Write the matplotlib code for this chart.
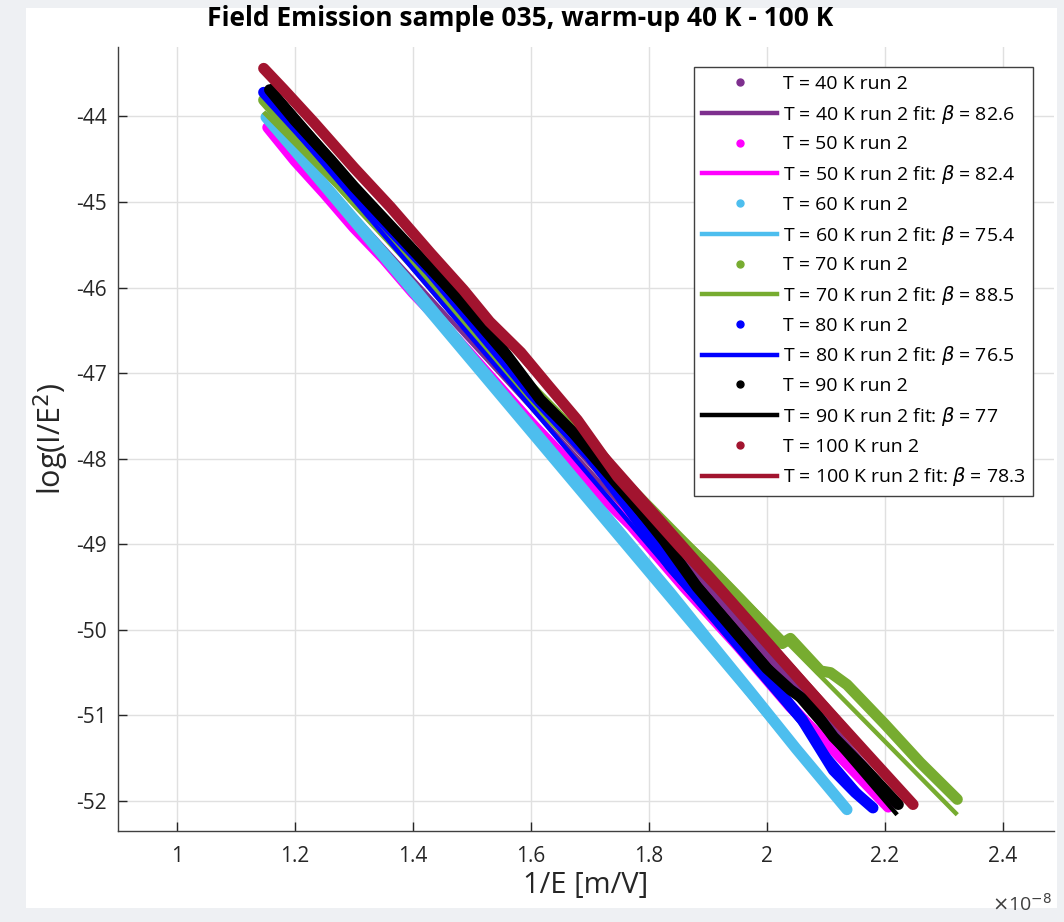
import matplotlib
matplotlib.use("Agg")
import matplotlib.pyplot as plt
from matplotlib.lines import Line2D
from matplotlib.patches import Rectangle

plt.rcParams['font.family'] = ['Open Sans', 'DejaVu Sans']
plt.rcParams['axes.unicode_minus'] = False
plt.rcParams['mathtext.fontset'] = 'dejavusans'

# ---- data (x in units of 1e-8 m/V) ----
labels_T = ["40", "50", "60", "70", "80", "90", "100"]
betas = ["82.6", "82.4", "75.4", "88.5", "76.5", "77", "78.3"]
colors = ["#7E2F8E", "#FF00FF", "#4DBEEE", "#77AC30", "#0000FF", "#000000", "#A2142F"]

x40 = [1.150, 1.250, 1.400, 1.500, 1.621, 1.750, 1.870, 2.000, 2.100, 2.212]
y40 = [-43.80, -44.60, -45.70, -46.48, -47.42, -48.38, -49.25, -50.30, -51.10, -51.98]

x50 = [1.154, 1.20, 1.25, 1.30, 1.35, 1.40, 1.45, 1.50, 1.60, 1.70, 1.77, 1.86, 1.95, 2.04, 2.12, 2.206]
y50 = [-44.13, -44.52, -44.90, -45.30, -45.66, -46.06, -46.42, -46.80, -47.58, -48.30, -48.78,
       -49.50, -50.18, -50.90, -51.45, -52.07]

x60 = [1.151, 1.20, 1.30, 1.40, 1.50, 1.60, 1.70, 1.747, 1.837, 1.90, 1.972, 2.05, 2.136]
y60 = [-44.01, -44.40, -45.20, -45.99, -46.82, -47.63, -48.45, -48.83, -49.57, -50.11, -50.72,
       -51.39, -52.10]

x70 = [1.147, 1.20, 1.30, 1.40, 1.50, 1.60, 1.684, 1.75, 1.815, 1.90, 1.955, 2.026, 2.040,
       2.091, 2.108, 2.136, 2.20, 2.26, 2.323]
y70 = [-43.81, -44.22, -44.98, -45.72, -46.52, -47.30, -47.85, -48.28, -48.70, -49.25, -49.64,
       -50.16, -50.10, -50.48, -50.50, -50.64, -51.10, -51.55, -51.98]

x80 = [1.147, 1.20, 1.30, 1.40, 1.43, 1.50, 1.60, 1.70, 1.747, 1.837, 1.92, 2.001, 2.06, 2.113,
       2.15, 2.180]
y80 = [-43.72, -44.12, -44.88, -45.60, -45.82, -46.40, -47.23, -47.98, -48.40, -49.26, -49.90,
       -50.55, -51.05, -51.64, -51.90, -52.08]

x90 = [1.157, 1.20, 1.261, 1.30, 1.40, 1.43, 1.50, 1.544, 1.616, 1.68, 1.735, 1.825, 1.882, 1.95,
       2.000, 2.040, 2.070, 2.113, 2.17, 2.223]
y90 = [-43.69, -44.05, -44.51, -44.82, -45.56, -45.78, -46.30, -46.65, -47.31, -47.75, -48.17,
       -48.95, -49.50, -50.05, -50.45, -50.70, -50.85, -51.25, -51.65, -52.04]

x100 = [1.147, 1.18, 1.232, 1.30, 1.362, 1.43, 1.486, 1.53, 1.583, 1.63, 1.679, 1.747, 1.80,
        1.853, 1.921, 2.00, 2.057, 2.12, 2.170, 2.248]
y100 = [-43.44, -43.68, -44.07, -44.60, -45.06, -45.60, -46.03, -46.40, -46.76, -47.15, -47.55,
        -48.21, -48.62, -49.03, -49.53, -50.15, -50.59, -51.07, -51.45, -52.04]

# fit lines: start / end points
fit_x = [[1.150, 2.212], [1.154, 2.206], [1.151, 2.136], [1.147, 2.323],
         [1.147, 2.180], [1.157, 2.221], [1.147, 2.248]]
fit_y = [[-44.03, -51.98], [-44.18, -52.07], [-44.06, -52.13], [-43.95, -52.16],
         [-43.74, -52.08], [-43.63, -52.16], [-43.42, -52.02]]

data_x = [x40, x50, x60, x70, x80, x90, x100]
data_y = [y40, y50, y60, y70, y80, y90, y100]

xticks = [1.0, 1.2, 1.4, 1.6, 1.8, 2.0, 2.2, 2.4]
xtick_labels = ["1", "1.2", "1.4", "1.6", "1.8", "2", "2.2", "2.4"]
yticks = [-52, -51, -50, -49, -48, -47, -46, -45, -44]
ytick_labels = ["-52", "-51", "-50", "-49", "-48", "-47", "-46", "-45", "-44"]

# ---- figure ----
W, H = 1064, 922
fig = plt.figure(figsize=(W / 100, H / 100), dpi=100, facecolor="#eef0f3")
fig.patches.append(Rectangle((26 / W, 1 - 908 / H), (1057 - 26) / W, (908 - 8) / H,
                             transform=fig.transFigure, facecolor="white", edgecolor="none",
                             zorder=-10))

ax = fig.add_axes([118 / W, 1 - 831 / H, (1054 - 118) / W, (831 - 47) / H])
ax.set_facecolor("white")

for i in range(len(labels_T)):
    ax.plot(data_x[i], data_y[i], color=colors[i], lw=8, solid_capstyle="round",
            solid_joinstyle="round", zorder=3 + 2 * i)
    ax.plot(fit_x[i], fit_y[i], color=colors[i], lw=3.2, solid_capstyle="butt",
            zorder=4 + 2 * i)

ax.set_xlim(0.9, 2.487)
ax.set_ylim(-52.35, -43.19)
ax.set_xticks(xticks)
ax.set_xticklabels(xtick_labels)
ax.set_yticks(yticks)
ax.set_yticklabels(ytick_labels)
ax.tick_params(direction="in", length=6.5, width=1, colors="#262626", labelsize=15)
ax.tick_params(axis="x", pad=11)
ax.tick_params(axis="y", pad=8)
ax.grid(True, color="#e0e0e0", lw=1.0)
ax.set_axisbelow(True)
for s in ["top", "right"]:
    ax.spines[s].set_visible(False)
for s in ["left", "bottom"]:
    ax.spines[s].set_color("#404040")
    ax.spines[s].set_linewidth(1.0)

ax.set_xlabel("1/E [m/V]", fontsize=21, color="#262626", labelpad=3)
ax.set_ylabel("log(I/E$^2$)", fontsize=22, color="#262626", labelpad=4)

fig.text(520 / W, 1 - 19 / H, "Field Emission sample 035, warm-up 40 K - 100 K",
         ha="center", va="center", fontsize=19, fontweight="bold", color="black")
fig.text(1052 / W, 1 - 904 / H, r"$\times$10$^{-8}$", ha="right", va="center",
         fontsize=14, color="#404040")

# legend
handles, texts = [], []
for i in range(len(labels_T)):
    handles.append(Line2D([], [], marker="o", ls="none", color=colors[i], markersize=5))
    texts.append(f"T = {labels_T[i]} K run 2")
    handles.append(Line2D([], [], color=colors[i], lw=3.2))
    texts.append(f"T = {labels_T[i]} K run 2 fit: $\\beta$ = {betas[i]}")
leg = ax.legend(handles, texts, loc="upper right", bbox_to_anchor=(1033 / W, 1 - 67 / H),
                bbox_transform=fig.transFigure, fontsize=14, frameon=True, fancybox=False,
                framealpha=1, edgecolor="#404040", handlelength=3.86, handletextpad=0.26,
                labelspacing=0.5, borderpad=0.41, borderaxespad=0)
leg.get_frame().set_linewidth(1.0)
leg.set_zorder(50)

fig.savefig("out.png", dpi=100, facecolor=fig.get_facecolor())
